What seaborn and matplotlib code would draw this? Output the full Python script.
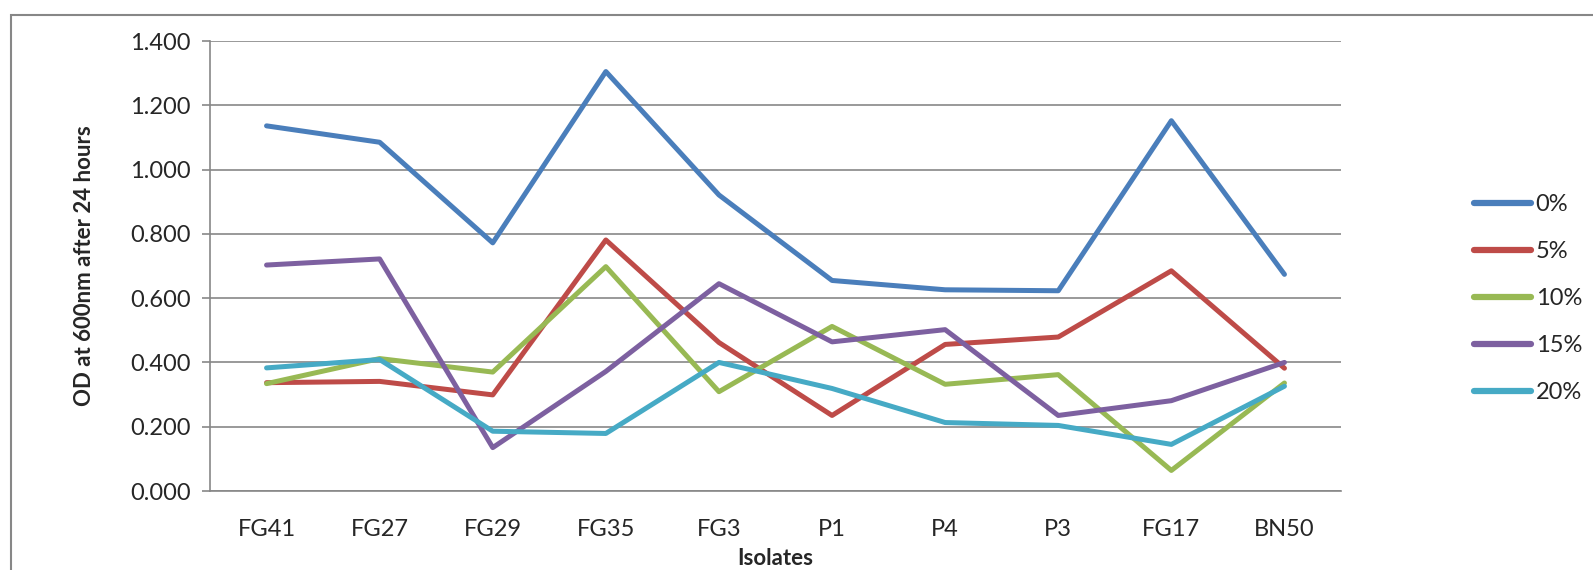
import numpy as np
import pandas as pd
import matplotlib
matplotlib.use("Agg")
import matplotlib.pyplot as plt
import seaborn as sns
from matplotlib.patches import Rectangle
from matplotlib.ticker import FixedLocator, FormatStrFormatter

isolates = ["FG41", "FG27", "FG29", "FG35", "FG3", "P1", "P4", "P3", "FG17", "BN50"]
series_names = ["0%", "5%", "10%", "15%", "20%"]
od_0 = [1.136, 1.085, 0.772, 1.305, 0.921, 0.655, 0.626, 0.623, 1.152, 0.674]
od_5 = [0.337, 0.341, 0.299, 0.781, 0.462, 0.235, 0.456, 0.479, 0.685, 0.382]
od_10 = [0.334, 0.412, 0.370, 0.698, 0.309, 0.512, 0.332, 0.362, 0.064, 0.336]
od_15 = [0.703, 0.722, 0.135, 0.372, 0.645, 0.464, 0.502, 0.235, 0.281, 0.400]
od_20 = [0.383, 0.409, 0.186, 0.179, 0.400, 0.319, 0.213, 0.204, 0.145, 0.326]
colors = ["#4A7EBB", "#BE4B48", "#98B954", "#7D60A0", "#46AAC5"]

rows = []
for name, vals in zip(series_names, [od_0, od_5, od_10, od_15, od_20]):
    for iso, v in zip(isolates, vals):
        rows.append({"Isolate": iso, "Concentration": name, "OD": v})
df = pd.DataFrame(rows)

sns.set_style("white")
plt.rcParams['font.family'] = ['Lato', 'DejaVu Sans']

fig = plt.figure(figsize=(15.93, 5.70), dpi=100)
ax = fig.add_axes([210 / 1593, 1 - 491 / 570, (1341 - 210) / 1593, (491 - 41) / 570])

grey = "#878787"
sns.lineplot(data=df, x="Isolate", y="OD", hue="Concentration", hue_order=series_names,
             palette=colors, linewidth=3.6, sort=False, ax=ax, legend=True)

ax.set_xlim(-0.5, 9.5)
ax.set_ylim(0, 1.4)
ax.set_yticks(np.arange(0, 1.41, 0.2))
ax.yaxis.set_major_formatter(FormatStrFormatter("%.3f"))
ax.yaxis.grid(True, color=grey, linewidth=1.2)
ax.set_axisbelow(True)

ax.set_xticks(range(len(isolates)))
ax.set_xticklabels(isolates)
ax.xaxis.set_minor_locator(FixedLocator(np.arange(-0.5, 10, 1)))
ax.tick_params(axis="x", which="major", length=0, pad=20, labelsize=17)
ax.tick_params(axis="x", which="minor", length=6, width=1.2, color=grey, direction="out")
ax.tick_params(axis="y", length=6, width=1.2, color=grey, pad=8, labelsize=17, left=True)

for s in ["top", "right"]:
    ax.spines[s].set_visible(False)
for s in ["left", "bottom"]:
    ax.spines[s].set_color(grey)
    ax.spines[s].set_linewidth(1.2)

ax.set_xlabel("Isolates", fontsize=16, fontweight="bold", labelpad=6)
ax.set_ylabel("OD at 600nm after 24 hours", fontsize=16, fontweight="bold", labelpad=25)

leg = ax.legend(loc="center left", bbox_to_anchor=(1.099, 0.428), frameon=False,
                fontsize=17, handlelength=2.4, handletextpad=0.2, labelspacing=1.1)
for line in leg.get_lines():
    line.set_linewidth(4.5)
    line.set_solid_capstyle("round")

fig.patches.append(Rectangle((11 / 1593, -0.1), 1.2, 1 - 15 / 570 + 0.1,
                             transform=fig.transFigure, fill=False,
                             edgecolor=grey, linewidth=1.5))

fig.savefig("out.png", dpi=100)
